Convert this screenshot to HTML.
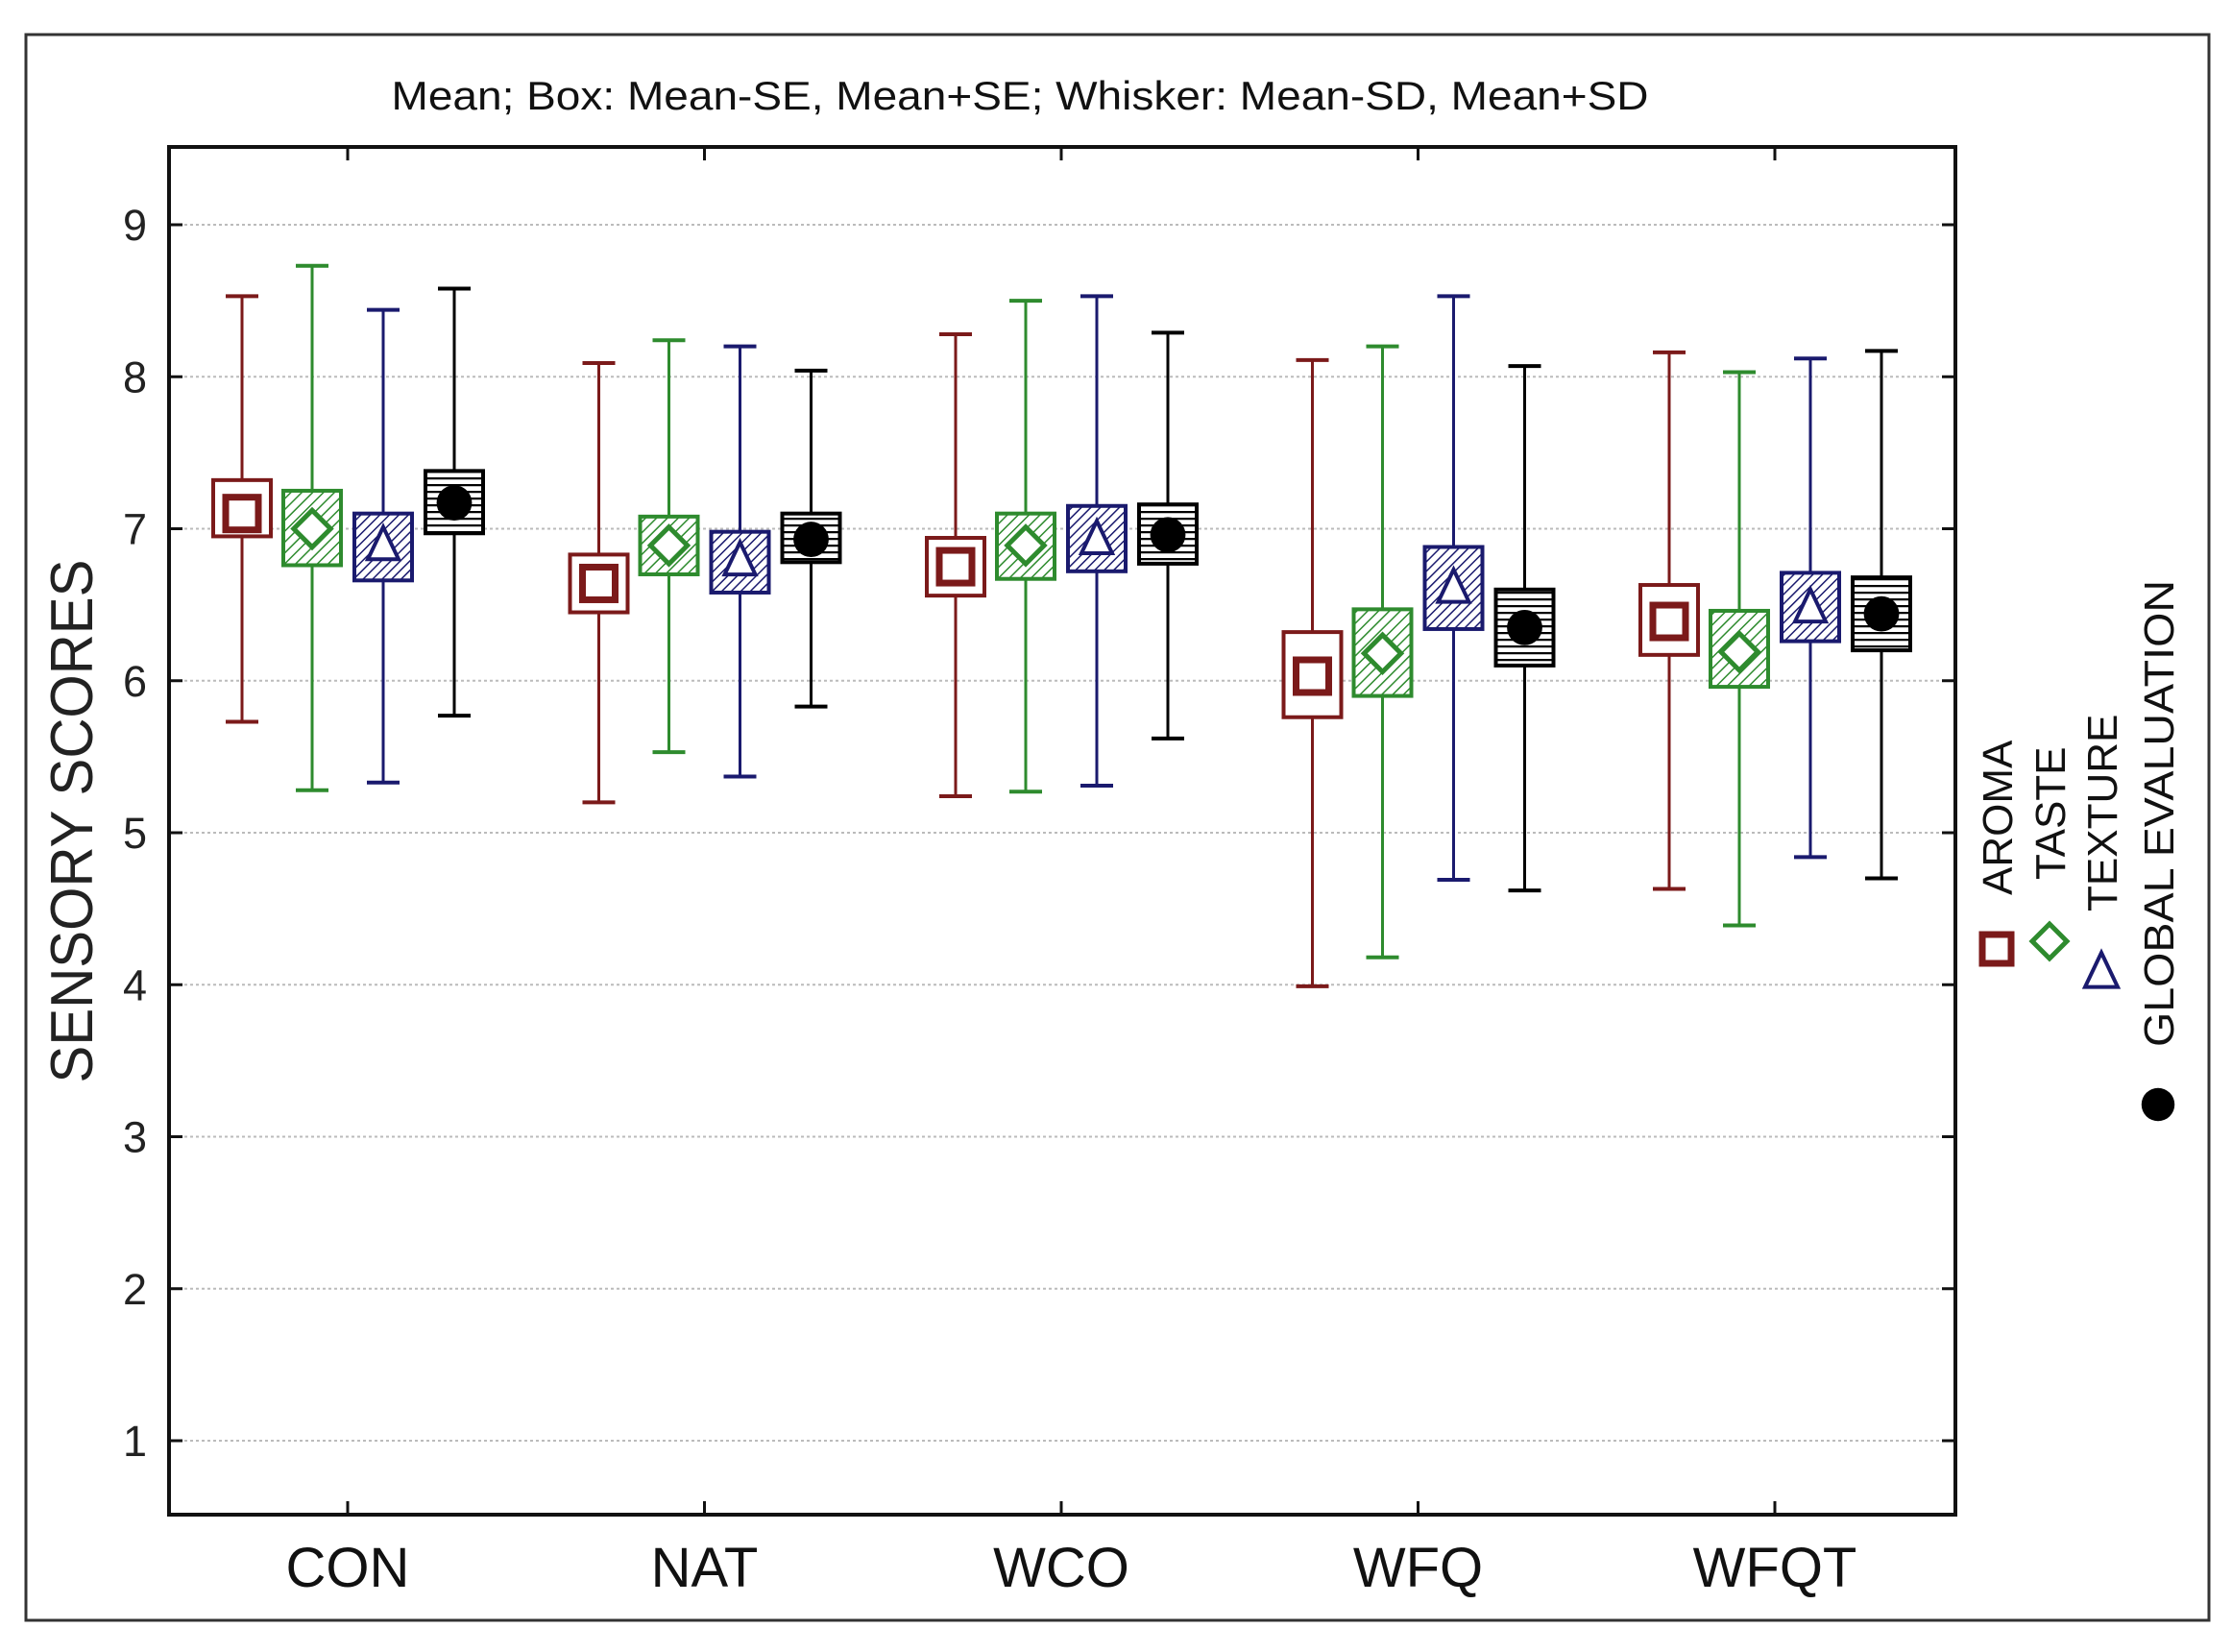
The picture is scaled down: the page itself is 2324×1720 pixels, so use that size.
<!DOCTYPE html>
<html><head><meta charset="utf-8"><style>
html,body{margin:0;padding:0;background:#fff;}
svg{display:block;font-family:"Liberation Sans",sans-serif;}
</style></head><body>
<svg id="chart" width="2324" height="1720" viewBox="0 0 2324 1720" xmlns="http://www.w3.org/2000/svg">
<defs>
<pattern id="hatchG" patternUnits="userSpaceOnUse" width="8" height="8" patternTransform="rotate(45)"><rect width="8" height="8" fill="#fff"/><line x1="0" y1="0" x2="0" y2="8" stroke="#2e8b2e" stroke-width="3"/></pattern>
<pattern id="hatchB" patternUnits="userSpaceOnUse" width="7" height="7" patternTransform="rotate(45)"><rect width="7" height="7" fill="#fff"/><line x1="0" y1="0" x2="0" y2="7" stroke="#1a1a6e" stroke-width="3"/></pattern>
<pattern id="hatchK" patternUnits="userSpaceOnUse" width="8" height="7"><rect width="8" height="7" fill="#fff"/><line x1="0" y1="1" x2="8" y2="1" stroke="#000" stroke-width="2.5"/></pattern>
</defs>
<rect x="27" y="36" width="2273" height="1651" fill="#fff" stroke="#333" stroke-width="3"/>
<text x="1062" y="114" font-size="42" text-anchor="middle" textLength="1309" lengthAdjust="spacingAndGlyphs" fill="#111">Mean;  Box: Mean-SE, Mean+SE;  Whisker: Mean-SD, Mean+SD</text>
<g id="grid"></g>
<g id="marks"></g>
<rect x="176" y="153" width="1860" height="1424" fill="none" stroke="#111" stroke-width="4"/>
<g id="axes"></g>
<text transform="translate(96,855) rotate(-90)" font-size="62" text-anchor="middle" textLength="545" lengthAdjust="spacingAndGlyphs" fill="#222">SENSORY SCORES</text>
<g id="legend"></g>
</svg>
<script>
const categories = ["CON","NAT","WCO","WFQ","WFQT"];
const seriesNames = ["AROMA","TASTE","TEXTURE","GLOBAL EVALUATION"];
const yTicks = [1,2,3,4,5,6,7,8,9];
// [mean, mean-SE, mean+SE, mean-SD, mean+SD] per category
const aroma   = [[7.10,6.95,7.32,5.73,8.53],[6.64,6.45,6.83,5.20,8.09],[6.75,6.56,6.94,5.24,8.28],[6.03,5.76,6.32,3.99,8.11],[6.39,6.17,6.63,4.63,8.16]];
const taste   = [[7.00,6.76,7.25,5.28,8.73],[6.89,6.70,7.08,5.53,8.24],[6.89,6.67,7.10,5.27,8.50],[6.18,5.90,6.47,4.18,8.20],[6.19,5.96,6.46,4.39,8.03]];
const texture = [[6.88,6.66,7.10,5.33,8.44],[6.78,6.58,6.98,5.37,8.20],[6.92,6.72,7.15,5.31,8.53],[6.60,6.34,6.88,4.69,8.53],[6.47,6.26,6.71,4.84,8.12]];
const globalEval = [[7.17,6.97,7.38,5.77,8.58],[6.93,6.78,7.10,5.83,8.04],[6.96,6.77,7.16,5.62,8.29],[6.35,6.10,6.60,4.62,8.07],[6.44,6.20,6.68,4.70,8.17]];

const NS="http://www.w3.org/2000/svg";
const yScale = v => 1500 - (v-1)*158.25;
const xScale = i => 362 + i*371.5;
const offsets=[-110,-37,37,111];
const colors=["#7b1a1a","#2e8b2e","#1a1a6e","#000"];
const fills=["#fff","url(#hatchG)","url(#hatchB)","url(#hatchK)"];
function mk(tag,attrs,parent){const e=document.createElementNS(NS,tag);for(const k in attrs)e.setAttribute(k,attrs[k]);parent.appendChild(e);return e;}
const grid=document.getElementById('grid'),axes=document.getElementById('axes'),marks=document.getElementById('marks'),legend=document.getElementById('legend');
yTicks.forEach(t=>{
  const y=yScale(t);
  const g=mk('line',{x1:180,x2:2032,y1:y,y2:y,stroke:'#bbb','stroke-width':2,'stroke-dasharray':'3 3'},grid);
  
  
  const tl=mk('line',{x1:176,x2:190,y1:y,y2:y,stroke:'#111','stroke-width':3},axes);
  
  
  const tr=mk('line',{x1:2022,x2:2036,y1:y,y2:y,stroke:'#111','stroke-width':3},axes);
  
  
  const lab=mk('text',{x:153,y:y+16,'font-size':45,'text-anchor':'end',fill:'#222'},axes);
  lab.textContent=t;
  
  
});
categories.forEach((c,i)=>{
  const x=xScale(i);
  const t1=mk('line',{x1:x,x2:x,y1:1577,y2:1563,stroke:'#111','stroke-width':3},axes);
  
  
  const t2=mk('line',{x1:x,x2:x,y1:153,y2:167,stroke:'#111','stroke-width':3},axes);
  
  
  const lab=mk('text',{x:x,y:1652,'font-size':58,'text-anchor':'middle',fill:'#111'},axes);
  lab.textContent=c;
  
  
});
function marker(s,cx,cy,parent,sz){
  let m;
  if(s===0){m=mk('rect',{x:cx-sz,y:cy-sz,width:2*sz,height:2*sz,fill:'#fff',stroke:colors[0],'stroke-width':7},parent);}
  else if(s===1){m=mk('polygon',{points:`${cx},${cy-sz*1.2} ${cx+sz*1.2},${cy} ${cx},${cy+sz*1.2} ${cx-sz*1.2},${cy}`,fill:'#fff',stroke:colors[1],'stroke-width':5},parent);}
  else if(s===2){m=mk('polygon',{points:`${cx},${cy-sz*1.3} ${cx+sz},${cy+sz*0.8} ${cx-sz},${cy+sz*0.8}`,fill:'#fff',stroke:colors[2],'stroke-width':4},parent);}
  else {m=mk('circle',{cx:cx,cy:cy,r:sz*1.15,fill:'#000'},parent);}
  return m;
}
[aroma,taste,texture,globalEval].forEach((data,s)=>{
  data.forEach((d,i)=>{
    const cx=xScale(i)+offsets[s];
    const g=mk('g',{},marks);
    
    
    const col=colors[s];
    mk('line',{x1:cx,x2:cx,y1:yScale(d[4]),y2:yScale(d[2]),stroke:col,'stroke-width':3},g);
    mk('line',{x1:cx,x2:cx,y1:yScale(d[1]),y2:yScale(d[3]),stroke:col,'stroke-width':3},g);
    mk('line',{x1:cx-17,x2:cx+17,y1:yScale(d[4]),y2:yScale(d[4]),stroke:col,'stroke-width':4},g);
    mk('line',{x1:cx-17,x2:cx+17,y1:yScale(d[3]),y2:yScale(d[3]),stroke:col,'stroke-width':4},g);
    mk('rect',{x:cx-30,y:yScale(d[2]),width:60,height:yScale(d[1])-yScale(d[2]),fill:fills[s],stroke:col,'stroke-width':4},g);
    marker(s,cx,yScale(d[0]),g,s===0?17:16);
  });
});
const legX=[2079,2134,2188,2247], legTextY=[932,916,949,1090], legMarkY=[988,980,1014,1150];
seriesNames.forEach((n,s)=>{
  const g=mk('g',{},legend);
  
  
  marker(s,legX[s],legMarkY[s],g,s===2?17:15);
  const t=mk('text',{transform:`translate(${legX[s]+16},${legTextY[s]}) rotate(-90)`,'font-size':44,fill:'#111'},g);
  if(s===3){ t.setAttribute('textLength',486); t.setAttribute('lengthAdjust','spacingAndGlyphs'); }
  t.textContent=n;
});
</script>
</body></html>
